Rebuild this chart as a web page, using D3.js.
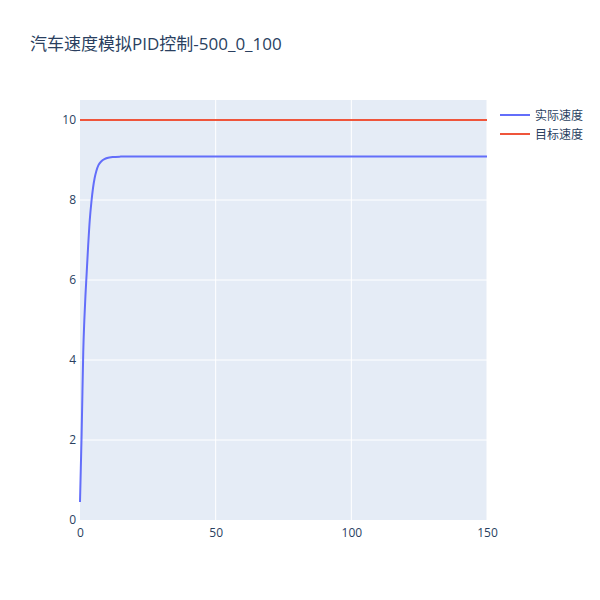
<!DOCTYPE html>
<html>
<head>
<meta charset="utf-8">
<script src="https://cdn.jsdelivr.net/npm/d3@7"></script>
<style>
  body { margin: 0; background: #fff; }
  text { font-family: "Open Sans", "Noto Sans CJK SC", verdana, arial, sans-serif; }
</style>
</head>
<body>
<div id="chart"></div>
<script>
// time steps and speed
var timeVals = [0, 0.3, 0.6, 0.9, 1.2, 1.6, 2.0, 2.4, 3.0, 3.6, 4.2, 4.8, 5.4, 6.0, 6.8, 7.9, 9, 10, 12, 15, 20, 150]
var speedVals = [0.45, 1.3, 2.15, 3.2, 4.2, 5.0, 5.6, 6.1, 6.85, 7.5, 7.95, 8.3, 8.55, 8.72, 8.87, 8.97, 9.02, 9.05, 9.075, 9.085, 9.09, 9.09]
var targetTime = [0, 150]
var targetVals = [10, 10]

var xTicks = [0, 50, 100, 150]
var yTicks = [0, 2, 4, 6, 8, 10]
var seriesNames = ["实际速度", "目标速度"]
var seriesColors = ["#636efa", "#EF553B"]
var title = "汽车速度模拟PID控制-500_0_100"

var width = 600, height = 600
// note: "top" is taken by window.top, so use plot* names
var plotLeft = 80, plotRight = 487, plotTop = 100, plotBottom = 520

var svg = d3.select("#chart").append("svg")
  .attr("width", width)
  .attr("height", height)

var x = d3.scaleLinear().domain([0, 150]).range([plotLeft, plotRight])
var y = d3.scaleLinear().domain([0, 10.5]).range([plotBottom, plotTop])

svg.append("rect")
  .attr("x", plotLeft).attr("y", plotTop)
  .attr("width", plotRight - plotLeft).attr("height", plotBottom - plotTop)
  .attr("fill", "#E5ECF6")

// grid
svg.append("g")
  .selectAll("line").data(xTicks.slice(1)).enter().append("line")
  .attr("x1", d => x(d)).attr("x2", d => x(d))
  .attr("y1", plotTop).attr("y2", plotBottom)
  .attr("stroke", "#fff").attr("stroke-width", 1)
svg.append("g")
  .selectAll("line").data(yTicks.slice(1)).enter().append("line")
  .attr("x1", plotLeft).attr("x2", plotRight)
  .attr("y1", d => y(d)).attr("y2", d => y(d))
  .attr("stroke", "#fff").attr("stroke-width", 1)

// axes
var xAxis = svg.append("g")
  .attr("transform", "translate(0," + plotBottom + ")")
  .call(d3.axisBottom(x).tickValues(xTicks).tickSize(0).tickPadding(8))
var yAxis = svg.append("g")
  .attr("transform", "translate(" + plotLeft + ",0)")
  .call(d3.axisLeft(y).tickValues(yTicks).tickSize(0).tickPadding(4))
;[xAxis, yAxis].forEach(function(a){
  a.select(".domain").remove()
  a.selectAll("text").attr("fill", "#2a3f5f").attr("font-size", 12)
    .style("font-family", '"Open Sans", verdana, arial, sans-serif')
})

var line = d3.line().x(d => x(d[0])).y(d => y(d[1])).curve(d3.curveMonotoneX)

svg.append("path")
  .datum(timeVals.map((t, i) => [t, speedVals[i]]))
  .attr("d", line)
  .attr("fill", "none")
  .attr("stroke", seriesColors[0])
  .attr("stroke-width", 2)

svg.append("path")
  .datum(targetTime.map((t, i) => [t, targetVals[i]]))
  .attr("d", line)
  .attr("fill", "none")
  .attr("stroke", seriesColors[1])
  .attr("stroke-width", 2)

// title
svg.append("text")
  .attr("x", 30).attr("y", 50)
  .attr("fill", "#2a3f5f")
  .attr("font-size", 17)
  .text(title)

// legend
var legend = svg.append("g").attr("transform", "translate(500,115)")
seriesNames.forEach(function(n, i){
  var g = legend.append("g").attr("transform", "translate(0," + (i * 19) + ")")
  g.append("line").attr("x1", 0).attr("x2", 30).attr("y1", 0).attr("y2", 0)
    .attr("stroke", seriesColors[i]).attr("stroke-width", 2)
  g.append("text").attr("x", 35).attr("y", 4.5)
    .attr("fill", "#2a3f5f").attr("font-size", 12)
    .text(n)
})
</script>
</body>
</html>
